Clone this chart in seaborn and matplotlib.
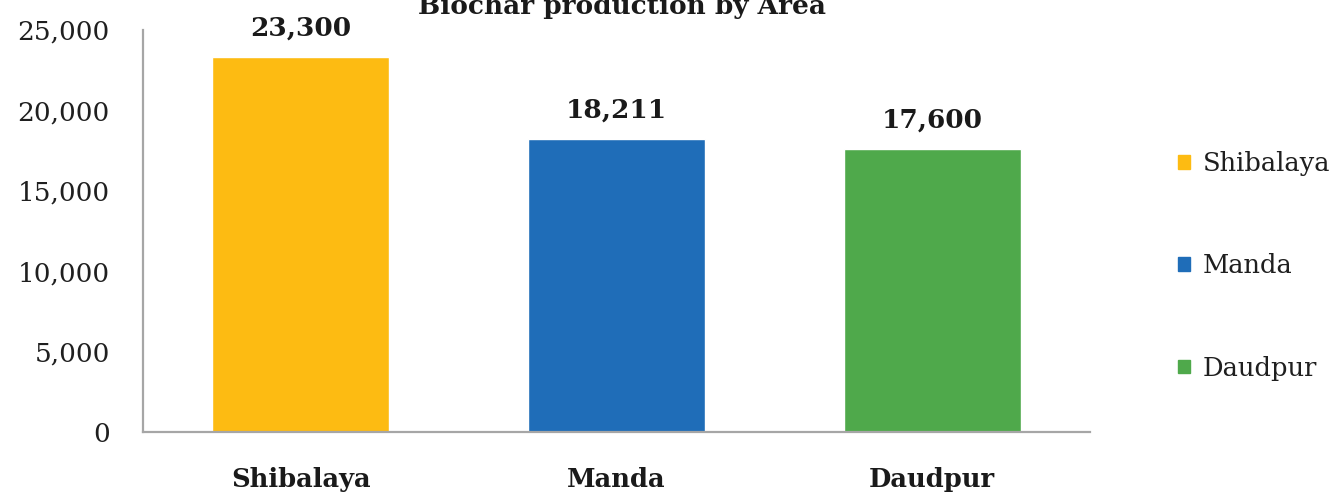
import matplotlib
matplotlib.use("Agg")
import matplotlib.pyplot as plt
import matplotlib.ticker as mticker
import seaborn as sns
import pandas as pd

# Biochar output per area
areas = ["Shibalaya", "Manda", "Daudpur"]
production = [23300, 18211, 17600]
bar_colors = ["#FDBB12", "#1F6DB8", "#4FA94B"]
y_ticks = [0, 5000, 10000, 15000, 20000, 25000]

sns.set_theme(style="white")
plt.rcParams["font.family"] = ["DejaVu Serif"]

df = pd.DataFrame({"Area": areas, "Production": production})

fig = plt.figure(figsize=(13.39, 4.93), dpi=100)
ax = fig.add_axes([143 / 1339, 61 / 493, (1090 - 143) / 1339, (432 - 30) / 493])

sns.barplot(data=df, x="Area", y="Production", hue="Area",
            palette=bar_colors, width=0.56, saturation=1,
            legend=False, ax=ax)

ax.set_ylim(0, 25000)
ax.set_yticks(y_ticks)
ax.yaxis.set_major_formatter(mticker.FuncFormatter(lambda v, p: f"{v:,.0f}"))
ax.set_xlabel("")
ax.set_ylabel("")

for side in ["top", "right"]:
    ax.spines[side].set_visible(False)
for side in ["left", "bottom"]:
    ax.spines[side].set_color("#A6A6A6")
    ax.spines[side].set_linewidth(1.6)

ax.tick_params(axis="y", length=0, pad=24, labelsize=19, labelcolor="#1f1f1f")
ax.tick_params(axis="x", length=0, pad=25, labelsize=18.5, labelcolor="#1a1a1a")
for lbl in ax.get_yticklabels():
    lbl.set_fontweight("medium")
for lbl in ax.get_xticklabels():
    lbl.set_fontweight("bold")

for container in ax.containers:
    ax.bar_label(container, fmt="{:,.0f}", padding=12, fontsize=19,
                 fontweight="bold", color="#1a1a1a")

# Title sits partly above the canvas edge
fig.text(622 / 1339, 479 / 493, "Biochar production by Area", ha="center",
         va="baseline", fontsize=19, fontweight="bold", color="#1a1a1a")

handles = [plt.Rectangle((0, 0), 1, 1, color=c) for c in bar_colors]
fig.legend(handles, areas, loc="center left",
           bbox_to_anchor=(1178 / 1339, (493 - 266) / 493),
           frameon=False, fontsize=18.5, handlelength=0.45, handleheight=0.45,
           handletextpad=0.5, labelspacing=3.0, borderpad=0, borderaxespad=0,
           labelcolor="#1f1f1f")

fig.savefig("out.png", dpi=100, facecolor="white")
